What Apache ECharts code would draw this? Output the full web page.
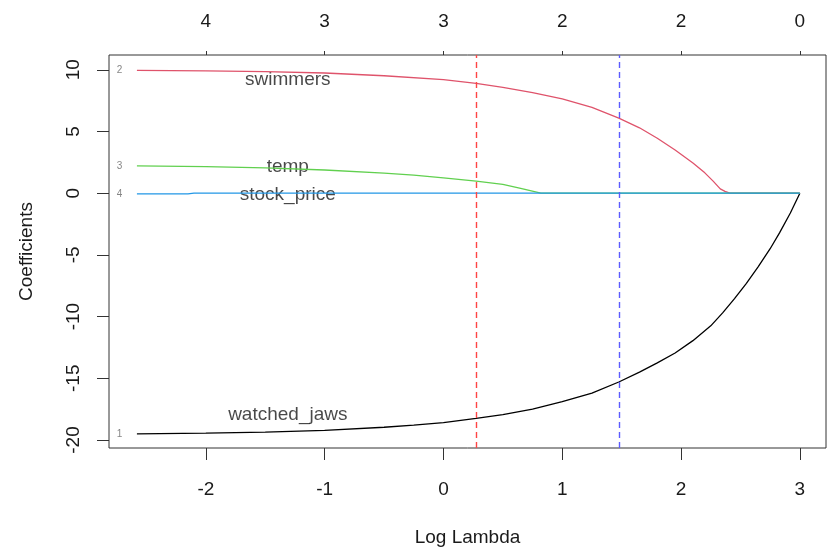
<!DOCTYPE html>
<html>
<head>
<meta charset="utf-8">
<script src="https://cdn.jsdelivr.net/npm/echarts@6/dist/echarts.min.js"></script>
<style>
  html, body { margin: 0; padding: 0; background: #fff; }
  #main { width: 827px; height: 550px; }
</style>
</head>
<body>
<div id="main"></div>
<script>
// log lambda positions and coefficient values
const watchedJawsX = [-2.58, -2.0, -1.5, -1.0, -0.5, -0.25, 0.0, 0.275, 0.5, 0.75, 1.0, 1.25, 1.476, 1.65, 1.8, 1.95, 2.1, 2.25, 2.35, 2.45, 2.55, 2.65, 2.75, 2.83, 2.92, 3.0];
const watchedJawsY = [-19.5, -19.45, -19.36, -19.22, -18.97, -18.8, -18.6, -18.25, -17.95, -17.5, -16.9, -16.2, -15.3, -14.5, -13.75, -12.95, -11.95, -10.75, -9.7, -8.55, -7.3, -5.95, -4.5, -3.2, -1.6, 0];

const swimmersX = [-2.58, -2.0, -1.5, -1.0, -0.5, 0.0, 0.275, 0.5, 0.75, 1.0, 1.25, 1.476, 1.65, 1.8, 1.95, 2.1, 2.2, 2.27, 2.33, 2.37, 2.41, 3.0];
const swimmersY = [9.95, 9.92, 9.86, 9.74, 9.52, 9.2, 8.9, 8.58, 8.15, 7.65, 6.95, 6.08, 5.3, 4.45, 3.5, 2.45, 1.65, 0.98, 0.35, 0.15, 0, 0];

const tempX = [-2.58, -2.0, -1.5, -1.0, -0.5, -0.25, 0.0, 0.275, 0.5, 0.65, 0.82, 3.0];
const tempY = [2.22, 2.15, 2.05, 1.88, 1.63, 1.46, 1.25, 0.98, 0.72, 0.4, 0, 0];

const stockX = [-2.58, -2.15, -2.1, 3.0];
const stockY = [-0.05, -0.05, 0, 0];

const varNames = ['watched_jaws', 'swimmers', 'temp', 'stock_price'];
const varIndex = ['1', '2', '3', '4'];
const varColors = ['#000000', '#DF536B', '#61D04F', '#2297E6'];
const nameLabelX = -1.31;
const nameLabelY = [-17.97, 9.19, 2.13, -0.14];

const bottomTicks = [-2, -1, 0, 1, 2, 3];
const topTickLabels = ['4', '3', '3', '2', '2', '0'];
const yTicks = [-20, -15, -10, -5, 0, 5, 10];

const cutLambda = [0.275, 1.476];
const cutColors = ['#FF4545', '#5C5CFF'];

const chartDom = document.getElementById('main');
const myChart = echarts.init(chartDom, null, { renderer: 'canvas' });

const font = 'Liberation Sans, Arial, sans-serif';
const xs = [watchedJawsX, swimmersX, tempX, stockX];
const ys = [watchedJawsY, swimmersY, tempY, stockY];

const lineSeries = varNames.map((name, k) => ({
  name: name,
  type: 'line',
  showSymbol: false,
  smooth: false,
  silent: true,
  lineStyle: { color: varColors[k], width: 1.3 },
  data: xs[k].map((x, i) => [x, ys[k][i]]),
}));

const option = {
  animation: false,
  grid: {
    left: 109, right: 1, top: 55, bottom: 102,
    show: true, borderColor: '#333', borderWidth: 1,
    outerBoundsMode: 'none',
  },
  xAxis: [
    {
      type: 'value', min: -2.815, max: 3.22, position: 'bottom',
      name: 'Log Lambda', nameLocation: 'middle', nameGap: 80,
      nameTextStyle: { fontFamily: font, fontSize: 19, color: '#1a1a1a' },
      splitLine: { show: false },
      axisLine: { show: false, onZero: false },
      axisTick: { show: true, length: 12, lineStyle: { color: '#333' }, customValues: bottomTicks },
      axisLabel: { fontFamily: font, fontSize: 19, color: '#1a1a1a', margin: 32, customValues: bottomTicks },
    },
    {
      type: 'value', min: -2.815, max: 3.22, position: 'top',
      splitLine: { show: false },
      axisLine: { show: false, onZero: false },
      axisTick: { show: true, length: 4, lineStyle: { color: '#333' }, customValues: bottomTicks },
      axisLabel: {
        fontFamily: font, fontSize: 19, color: '#1a1a1a', margin: 24, customValues: bottomTicks,
        formatter: (v) => topTickLabels[bottomTicks.indexOf(Math.round(v))] ?? '',
      },
    },
  ],
  yAxis: {
    type: 'value', min: -20.65, max: 11.2,
    name: 'Coefficients', nameLocation: 'middle', nameGap: 73, nameRotate: 90,
    nameTextStyle: { fontFamily: font, fontSize: 19, color: '#1a1a1a' },
    splitLine: { show: false },
    axisLine: { show: false, onZero: false },
    axisTick: { show: true, length: 12, lineStyle: { color: '#333' }, customValues: yTicks },
    axisLabel: { fontFamily: font, fontSize: 19, color: '#1a1a1a', margin: 26, rotate: 90, customValues: yTicks },
  },
  series: [
    ...lineSeries,
    {
      type: 'line',
      data: [],
      silent: true,
      markLine: {
        symbol: 'none',
        silent: true,
        label: { show: false },
        data: cutLambda.map((v, i) => ({
          xAxis: v,
          lineStyle: { color: cutColors[i], type: [6, 4], width: 1.4 },
        })),
      },
    },
    {
      type: 'scatter',
      symbolSize: 0,
      silent: true,
      label: {
        show: true, position: 'inside', fontFamily: font, fontSize: 19, color: '#1a1a1a',
        formatter: (p) => varNames[p.dataIndex],
      },
      data: nameLabelY.map((y) => [nameLabelX, y]),
    },
    {
      type: 'scatter',
      symbolSize: 0,
      silent: true,
      label: {
        show: true, position: 'inside', fontFamily: font, fontSize: 10, color: '#666',
        formatter: (p) => varIndex[p.dataIndex],
      },
      data: ys.map((y) => [-2.727, y[0]]),
    },
  ],
};

myChart.setOption(option);
</script>
</body>
</html>
